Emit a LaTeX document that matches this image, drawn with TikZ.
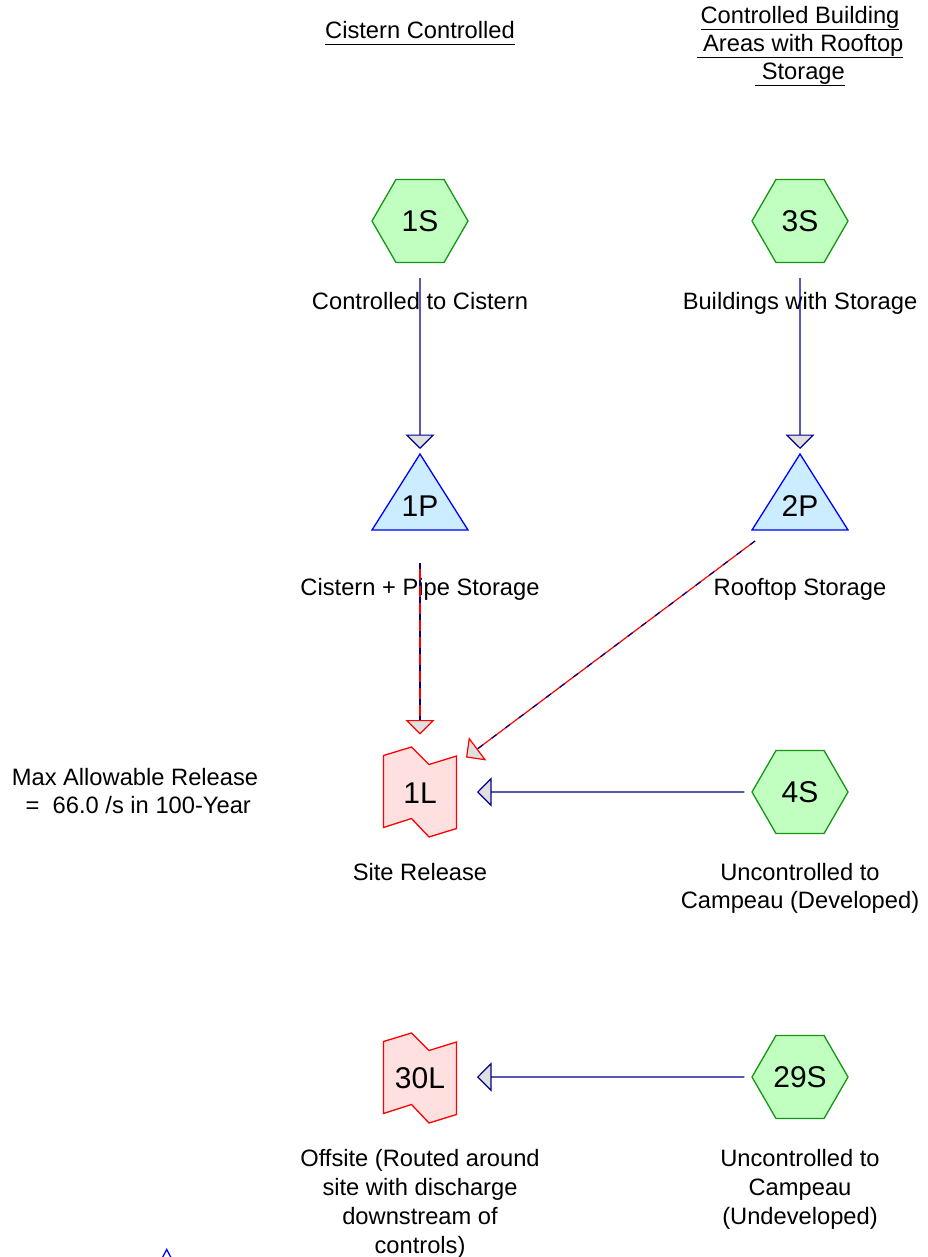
\documentclass[tikz,border=0pt]{standalone}
\usepackage{fontspec}
\setmainfont{Liberation Sans}
\usetikzlibrary{arrows.meta,shapes.geometric,calc}
\definecolor{hexfill}{RGB}{192,255,192}
\definecolor{hexdraw}{RGB}{20,150,20}
\definecolor{trifill}{RGB}{204,236,255}
\definecolor{tridraw}{RGB}{0,0,255}
\definecolor{lfill}{RGB}{255,224,224}
\definecolor{ldraw}{RGB}{255,0,0}
\definecolor{navyline}{RGB}{0,0,140}
\definecolor{tipfill}{RGB}{224,224,224}
\newcommand\ulx[1]{\setbox0\hbox{#1}\rlap{\rule[-6.5pt]{\wd0}{1.7pt}}\box0}
\begin{document}
\begin{tikzpicture}[x=1pt,y=-1pt,
  hexnode/.style={regular polygon, regular polygon sides=6, minimum size=96pt, inner sep=0pt,
    draw=hexdraw, fill=hexfill, line width=1.3pt, font=\fontsize{30}{36}\selectfont},
  shapelbl/.style={inner sep=0pt, font=\fontsize{30}{36}\selectfont},
  lbl/.style={font=\fontsize{23.7}{28.7}\selectfont, align=center, inner sep=0pt, anchor=base},
  hlbl/.style={font=\fontsize{23.7}{28}\selectfont, align=center, inner sep=0pt, anchor=base},
  flow/.style={draw=navyline, line width=1.2pt, -{Triangle[length=14.5pt,width=29pt,fill=tipfill]}},
  redflow/.style={draw=ldraw, line width=1.2pt, -{Triangle[length=14.5pt,width=29pt,fill=tipfill]}},
  bluedash/.style={draw=navyline, line width=1.2pt, dash pattern=on 6pt off 11pt, shorten >=15pt},
  pondshape/.pic={\path[draw=tridraw, fill=trifill, line width=1.3pt] (0,-52) -- (-48,24) -- (48,24) -- cycle;},
  linkshape/.pic={\path[draw=ldraw, fill=lfill, line width=1.3pt]
     (-36.5,-36.5) -- (-8.5,-45) -- (9,-27.5) -- (36.5,-36) -- (36.5,36.5) -- (9,45) -- (-8.5,26.5) -- (-36.5,35.5) -- cycle;}
]
\useasboundingbox (0,0) rectangle (927,1257);

% headers (anchor=base is the baseline of the last line)
\node[hlbl] (h1) at (420,39) {\ulx{Cistern Controlled}};
\node[hlbl] (h2) at (800,80) {\ulx{Controlled Building}\\\ulx{\ Areas with Rooftop}\\\ulx{\ Storage}};

% subcatchments
\node[hexnode] (s1) at (420,221) {1S};
\node[hexnode] (s3) at (800,221) {3S};
\node[hexnode] (s4) at (800,792) {4S};
\node[hexnode] (s29) at (800,1077) {29S};

% ponds
\pic at (420,506) {pondshape};
\node[shapelbl] (p1) at (420,506) {1P};
\pic at (800,506) {pondshape};
\node[shapelbl] (p2) at (800,506) {2P};

% links
\pic at (420,792) {linkshape};
\node[shapelbl] (l1) at (420,793) {1L};
\pic at (420,1078) {linkshape};
\node[shapelbl] (l30) at (420,1078) {30L};

% partial pond at bottom edge
\draw[tridraw, line width=1.3pt] (162.2,1258) -- (166.7,1249.5) -- (171.2,1258);

% labels
\node[lbl] (t1) at (420,309) {Controlled to Cistern};
\node[lbl] (t3) at (800,309) {Buildings with Storage};
\node[lbl] (tp1) at (420,595) {Cistern + Pipe Storage};
\node[lbl] (tp2) at (800,595) {Rooftop Storage};
\node[lbl] (tl1) at (420,880) {Site Release};
\node[lbl] (ts4) at (800,908.7) {Uncontrolled to\\Campeau (Developed)};
\node[lbl] (mx) at (135,813.7) {Max Allowable Release\\\ =\ \ 66.0 /s in 100-Year};
\node[lbl] (tl30) at (420,1253) {Offsite (Routed around\\site with discharge\\downstream of\\controls)};
\node[lbl] (ts29) at (800,1224) {Uncontrolled to\\Campeau\\(Undeveloped)};

% connectors
\draw[flow] ($(s1.south)+(0,15)$) -- ($(p1)+(0,-57)$);
\draw[flow] ($(s3.south)+(0,15)$) -- ($(p2)+(0,-57)$);

\draw[redflow] ($(p1)+(0,57)$) -- ($(l1)+(0,-58.5)$);
\draw[bluedash] ($(p1)+(0,57)$) -- ($(l1)+(0,-58.5)$);
\draw[redflow] ($(p2)+(-45,35)$) -- ($(l1)+(46,-35.5)$);
\draw[bluedash] ($(p2)+(-45,35)$) -- ($(l1)+(46,-35.5)$);

\draw[flow] ($(s4.west)+(-7,0)$) -- ($(l1)+(57,-1)$);
\draw[flow] ($(s29.west)+(-7,0)$) -- ($(l30)+(57,-1)$);
\end{tikzpicture}
\end{document}
